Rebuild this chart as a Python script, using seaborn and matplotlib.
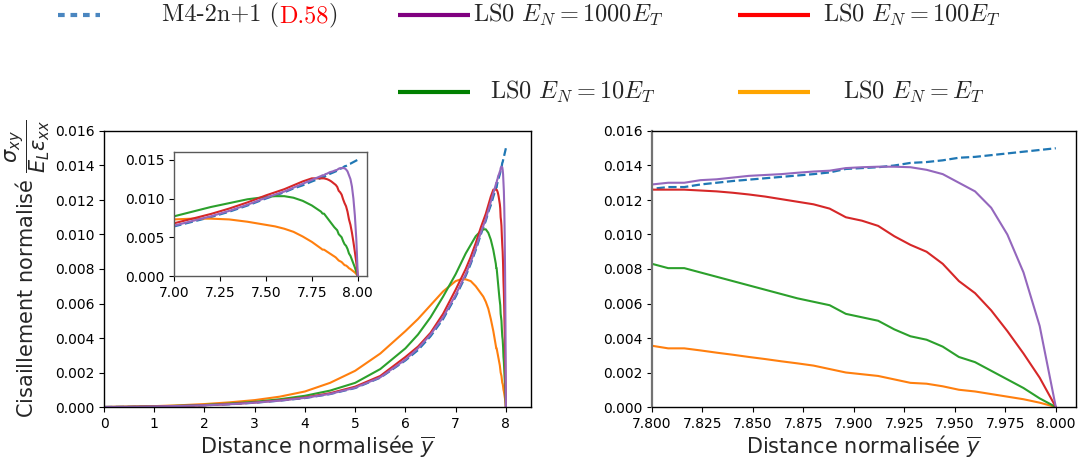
import numpy as np
import pandas as pd
import matplotlib
matplotlib.use("Agg")
import matplotlib.pyplot as plt
import seaborn as sns
from matplotlib.lines import Line2D
from matplotlib.text import Annotation
from matplotlib.ticker import FormatStrFormatter, MultipleLocator

# ---------------- data ----------------
y_bar = [0, 0.5, 1, 1.5, 2, 2.5, 3, 3.5, 4, 4.5, 5, 5.5, 6, 6.25, 6.5, 6.75,
         7.0, 7.1, 7.2, 7.3, 7.4, 7.5, 7.55, 7.6, 7.65, 7.7, 7.75,
         7.800, 7.808, 7.816, 7.824, 7.832, 7.840, 7.848, 7.856, 7.864, 7.872,
         7.880, 7.888, 7.896, 7.904, 7.912, 7.920, 7.928, 7.936, 7.944, 7.952,
         7.960, 7.968, 7.976, 7.984, 7.992, 8.000]

m4_ref = [0, 0.00001, 0.00003, 0.00006, 0.0001, 0.00016, 0.00025, 0.00037, 0.00052,
          0.00075, 0.0011, 0.0017, 0.0027, 0.0033, 0.0041, 0.0051,
          0.0064, 0.0070, 0.0076, 0.0083, 0.0091, 0.0100, 0.0104, 0.0108, 0.0113, 0.0117, 0.0122,
          0.01265, 0.01275, 0.01275, 0.0129, 0.0130, 0.0131, 0.01318, 0.01326, 0.01334, 0.01342,
          0.0135, 0.0136, 0.0138, 0.01385, 0.0139, 0.0140, 0.01415, 0.0142, 0.0143, 0.01445,
          0.0145, 0.0146, 0.0147, 0.0148, 0.0149, 0.0150]

ls0_1000 = [0, 0.00001, 0.00003, 0.00006, 0.0001, 0.00016, 0.00025, 0.00037, 0.00053,
            0.00076, 0.00112, 0.00172, 0.00275, 0.0034, 0.0042, 0.0052,
            0.0065, 0.0071, 0.0077, 0.0084, 0.0092, 0.0101, 0.0105, 0.0109, 0.0114, 0.0119, 0.0124,
            0.0129, 0.0130, 0.0130, 0.01315, 0.0132, 0.0133, 0.0134, 0.01345, 0.0135, 0.01358,
            0.01365, 0.0137, 0.01385, 0.0139, 0.01393, 0.01393, 0.0139, 0.01375, 0.0135, 0.0130,
            0.0125, 0.01155, 0.0100, 0.0078, 0.0047, 0.0]

ls0_100 = [0, 0.00001, 0.00003, 0.00006, 0.0001, 0.00017, 0.00026, 0.00039, 0.00055,
           0.0008, 0.00118, 0.0018, 0.0029, 0.0035, 0.0043, 0.0054,
           0.0068, 0.0074, 0.0080, 0.0087, 0.0095, 0.0104, 0.0108, 0.0112, 0.0117, 0.0122, 0.0126,
           0.0126, 0.0126, 0.0126, 0.01255, 0.0125, 0.01242, 0.01232, 0.0122, 0.01205, 0.0119,
           0.01175, 0.0115, 0.0110, 0.0108, 0.0105, 0.0099, 0.0094, 0.0090, 0.0083, 0.0073,
           0.0066, 0.0056, 0.0044, 0.0031, 0.0017, 0.0]

ls0_10 = [0, 0.00001, 0.00004, 0.00007, 0.00012, 0.0002, 0.0003, 0.00045, 0.00065,
          0.00095, 0.0014, 0.0022, 0.0034, 0.0042, 0.0052, 0.0064,
          0.0077, 0.0083, 0.0089, 0.0094, 0.0099, 0.0102, 0.0103, 0.0103, 0.0101, 0.0097, 0.0091,
          0.0083, 0.00805, 0.00805, 0.0078, 0.00755, 0.0073, 0.00705, 0.0068, 0.00655, 0.0063,
          0.0061, 0.0059, 0.0054, 0.0052, 0.0050, 0.0045, 0.0041, 0.0039, 0.0035, 0.0029,
          0.0026, 0.0021, 0.0016, 0.0011, 0.0005, 0.0]

ls0_1 = [0, 0.00002, 0.00005, 0.0001, 0.00017, 0.00027, 0.0004, 0.0006, 0.0009,
         0.0014, 0.0021, 0.0031, 0.0044, 0.0051, 0.0059, 0.0067,
         0.0073, 0.0074, 0.0074, 0.0073, 0.0070, 0.0066, 0.0064, 0.0061, 0.0057, 0.0051, 0.0044,
         0.00355, 0.0034, 0.0034, 0.00328, 0.00315, 0.00303, 0.0029, 0.00278, 0.00265, 0.00253,
         0.0024, 0.0022, 0.0020, 0.0019, 0.0018, 0.0016, 0.0014, 0.00135, 0.0012, 0.0010,
         0.0009, 0.00075, 0.0006, 0.00045, 0.00025, 0.0]

series_labels = ["M4-2n+1", "LS0 1000", "LS0 100", "LS0 10", "LS0 1"]
series_values = [m4_ref, ls0_1000, ls0_100, ls0_10, ls0_1]
plot_colors = ["tab:blue", "tab:purple", "tab:red", "tab:green", "tab:orange"]
legend_colors = ["#4a86c0", "purple", "red", "green", "orange"]

# ---------------- style ----------------
sns.set_style("ticks")
plt.rcParams["font.family"] = ["DejaVu Sans"]
plt.rcParams["axes.edgecolor"] = "black"
plt.rcParams["xtick.color"] = "black"
plt.rcParams["ytick.color"] = "black"
plt.rcParams["axes.linewidth"] = 1.0
plt.rcParams["xtick.labelsize"] = 10
plt.rcParams["ytick.labelsize"] = 10

W, H = 1085, 461
fig = plt.figure(figsize=(W / 100, H / 100), dpi=100)

def frac_rect(l, t, r, b):
    return [l / W, 1 - b / H, (r - l) / W, (b - t) / H]

ax_main = fig.add_axes(frac_rect(104, 131, 531, 407))
ax_ins = fig.add_axes(frac_rect(174, 152, 367, 276))
ax_zoom = fig.add_axes(frac_rect(652, 131, 1076, 407))

draw_order = [0, 4, 3, 2, 1]
for ax in (ax_main, ax_ins, ax_zoom):
    for i in draw_order:
        sns.lineplot(x=y_bar, y=series_values[i], ax=ax, color=plot_colors[i],
                     linestyle="--" if i == 0 else "-", linewidth=1.6 if i == 0 else 1.5,
                     estimator=None, sort=False)

# main axes
ax_main.set_xlim(0, 8.5)
ax_main.set_ylim(0, 0.016)
ax_main.xaxis.set_major_locator(MultipleLocator(1))
ax_main.yaxis.set_major_locator(MultipleLocator(0.002))
ax_main.yaxis.set_major_formatter(FormatStrFormatter("%.3f"))
ax_main.set_xlabel(r"Distance normalisée $\overline{y}$", fontsize=15, labelpad=2)
ax_main.set_ylabel(r"Cisaillement normalisé $\dfrac{\sigma_{xy}}{E_L\varepsilon_{xx}}$",
                   fontsize=15, labelpad=2)

# inset
ax_ins.set_xlim(7.0, 8.05)
ax_ins.set_ylim(0, 0.016)
ax_ins.xaxis.set_major_locator(MultipleLocator(0.25))
ax_ins.xaxis.set_major_formatter(FormatStrFormatter("%.2f"))
ax_ins.yaxis.set_major_locator(MultipleLocator(0.005))
ax_ins.yaxis.set_major_formatter(FormatStrFormatter("%.3f"))
ax_ins.set_xlabel("")
ax_ins.set_ylabel("")
for s in ax_ins.spines.values():
    s.set_color("0.35")

# zoom axes
ax_zoom.set_xlim(7.8, 8.01)
ax_zoom.set_ylim(0, 0.016)
ax_zoom.xaxis.set_major_locator(MultipleLocator(0.025))
ax_zoom.xaxis.set_major_formatter(FormatStrFormatter("%.3f"))
ax_zoom.yaxis.set_major_locator(MultipleLocator(0.002))
ax_zoom.yaxis.set_major_formatter(FormatStrFormatter("%.3f"))
ax_zoom.set_xlabel(r"Distance normalisée $\overline{y}$", fontsize=15, labelpad=2)
ax_zoom.set_ylabel("")
ax_zoom.spines["left"].set_color("0.45")
ax_zoom.spines["left"].set_linewidth(1.6)

# ---------------- legend (top) ----------------
leg_fs = 17.5
def handle(x0, x1, y, color, ls="-"):
    ln = Line2D([x0 / W, x1 / W], [1 - y / H, 1 - y / H], transform=fig.transFigure,
                color=color, linewidth=3, linestyle=ls, solid_capstyle="butt")
    fig.add_artist(ln)

def label(x, y, s):
    return fig.text(x / W, 1 - y / H, s, fontsize=leg_fs, family="cmr10",
                    math_fontfamily="cm", va="center", ha="left")

handle(58, 100, 15, legend_colors[0], ls=(0, (1.6, 1.4)))
t1 = fig.text(162 / W, 1 - 15 / H, "M4-2n+1 (", fontsize=leg_fs, family="cmr10",
              va="center", ha="left")
a1 = Annotation("D.58", xy=(1, 0), xycoords=t1, va="bottom", ha="left",
                fontsize=leg_fs, family="cmr10", color="red")
fig.add_artist(a1)
a2 = Annotation(")", xy=(1, 0), xycoords=a1, va="bottom", ha="left",
                fontsize=leg_fs, family="cmr10")
fig.add_artist(a2)

handle(398, 470, 15, legend_colors[1])
label(473, 15, r"LS0 $E_N = 1000E_T$")
handle(738, 810, 15, legend_colors[2])
label(823, 15, r"LS0 $E_N = 100E_T$")
handle(398, 470, 92, legend_colors[3])
label(490, 92, r"LS0 $E_N = 10E_T$")
handle(738, 810, 92, legend_colors[4])
label(843, 92, r"LS0 $E_N = E_T$")

fig.savefig("out.png", dpi=100)
